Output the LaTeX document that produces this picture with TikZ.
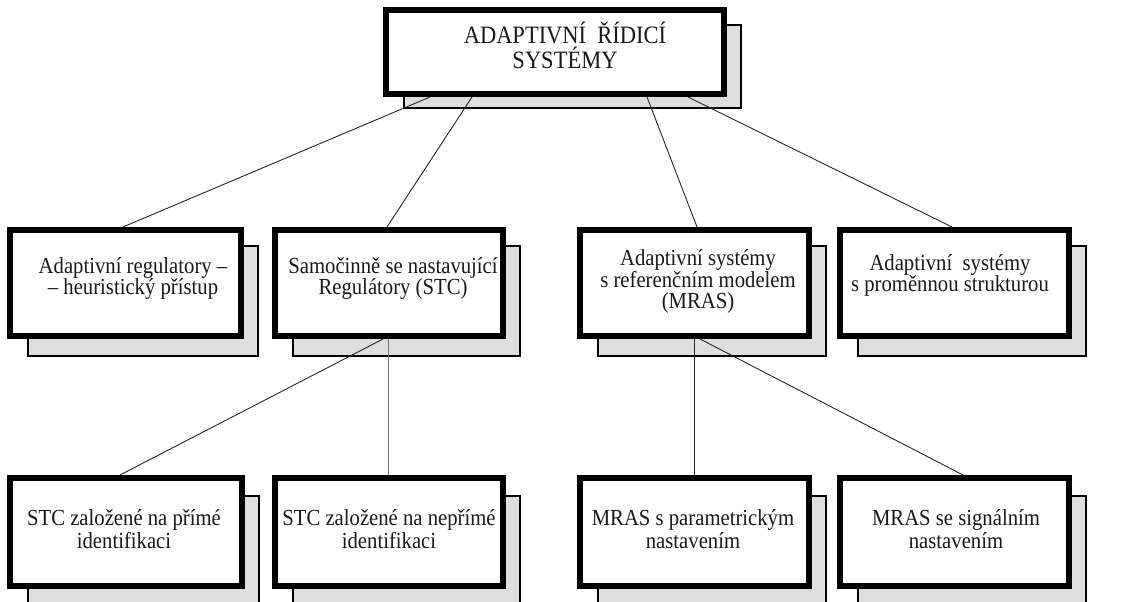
\documentclass[tikz,border=0pt]{standalone}
\usepackage{fontspec}
\usepackage{graphicx}
\setmainfont{Liberation Serif}
\usetikzlibrary{calc}
\pgfdeclarelayer{shadowlayer}
\pgfdeclarelayer{linelayer}
\pgfsetlayers{shadowlayer,linelayer,main}
\newcommand{\firststrut}{\rule{0pt}{1em}}
\newcommand{\tall}[1]{\scalebox{1}[1.11]{#1}}
\tikzset{
  mainbox/.style={draw=black, line width=6pt, fill=white, rectangle, inner sep=0pt},
  shadowbox/.style={draw=black, line width=1.6pt, fill=black!13},
  conn/.style={draw=black!85, line width=0.9pt},
  connlight/.style={draw=black!55, line width=0.9pt},
  toptext/.style={font=\fontsize{22.5}{25}\selectfont, text=black!90, align=center, inner sep=0pt, anchor=north},
  boxtext/.style={font=\fontsize{20.7}{21}\selectfont, text=black!90, align=center, inner sep=0pt, anchor=north},
  lowtext/.style={font=\fontsize{20.7}{23}\selectfont, text=black!90, align=center, inner sep=0pt, anchor=north},
}
\begin{document}
\begin{tikzpicture}[x=1pt,y=-1pt]
\useasboundingbox (0,0) rectangle (1136,602);
% boxes
\node[mainbox, minimum width=338pt, minimum height=84pt] (top) at (555,52) {};
\node[mainbox, minimum width=231pt, minimum height=106pt] (b1) at (125.5,283) {};
\node[mainbox, minimum width=228pt, minimum height=106pt] (b2) at (389,283) {};
\node[mainbox, minimum width=229pt, minimum height=106pt] (b3) at (694.5,283) {};
\node[mainbox, minimum width=229pt, minimum height=106pt] (b4) at (954.5,283) {};
\node[mainbox, minimum width=232pt, minimum height=108pt] (b5) at (126,532) {};
\node[mainbox, minimum width=228pt, minimum height=108pt] (b6) at (389,532) {};
\node[mainbox, minimum width=229pt, minimum height=108pt] (b7) at (694.5,532) {};
\node[mainbox, minimum width=229pt, minimum height=108pt] (b8) at (954.5,532) {};
% texts
\node[toptext] (topt) at (565,20.5) {\firststrut\tall{ADAPTIVNÍ\ \ ŘÍDICÍ}\\\tall{SYSTÉMY}};
\node[boxtext] (b1t) at (133,252.3) {\firststrut\tall{Adaptivní regulatory –}\\\tall{– heuristický přístup}};
\node[boxtext] (b2t) at (393,252.3) {\firststrut\tall{Samočinně se nastavující}\\\tall{Regulátory (STC)}};
\node[boxtext] (b3t) at (698,244.3) {\firststrut\tall{Adaptivní systémy}\\\tall{s referenčním modelem}\\\tall{(MRAS)}};
\node[boxtext] (b4t) at (950,249.3) {\firststrut\tall{Adaptivní\ \ systémy}\\\tall{s proměnnou strukturou}};
\node[lowtext] (b5t) at (124,504.3) {\firststrut\tall{STC založené na přímé}\\\tall{identifikaci}};
\node[lowtext] (b6t) at (389,504.3) {\firststrut\tall{STC založené na nepřímé}\\\tall{identifikaci}};
\node[lowtext] (b7t) at (693,504.3) {\firststrut\tall{MRAS s parametrickým}\\\tall{nastavením}};
\node[lowtext] (b8t) at (956,504.3) {\firststrut\tall{MRAS se signálním}\\\tall{nastavením}};
% shadows
\begin{pgfonlayer}{shadowlayer}
\draw[shadowbox] ($(top.north west)+(21,18)$) rectangle ($(top.south east)+(14,11)$);
\foreach \b in {b1,b2,b3,b4}
  \draw[shadowbox] ($(\b.north west)+(21,19)$) rectangle ($(\b.south east)+(14,17)$);
\foreach \b in {b5,b6,b7,b8}
  \draw[shadowbox] ($(\b.north west)+(21,21)$) rectangle ($(\b.south east)+(14,30)$);
\end{pgfonlayer}
% connectors
\begin{pgfonlayer}{linelayer}
\draw[conn] ($(top.south)+(-125,0)$) -- ($(b1.north)+(-2.5,0)$);
\draw[conn] ($(top.south)+(-83,0)$) -- ($(b2.north)+(-2,0)$);
\draw[conn] ($(top.south)+(92,0)$) -- ($(b3.north)+(2.5,0)$);
\draw[conn] ($(top.south)+(133,0)$) -- ($(b4.north)+(-2.5,0)$);
\draw[conn] ($(b2.south)+(-6,0)$) -- ($(b5.north)+(-6,0)$);
\draw[connlight] ($(b2.south)+(-1,0)$) -- ($(b6.north)+(-1,0)$);
\draw[conn] (b3.south) -- (b7.north);
\draw[conn] ($(b3.south)+(5.5,0)$) -- ($(b8.north)+(8.5,0)$);
\end{pgfonlayer}
\end{tikzpicture}
\end{document}
